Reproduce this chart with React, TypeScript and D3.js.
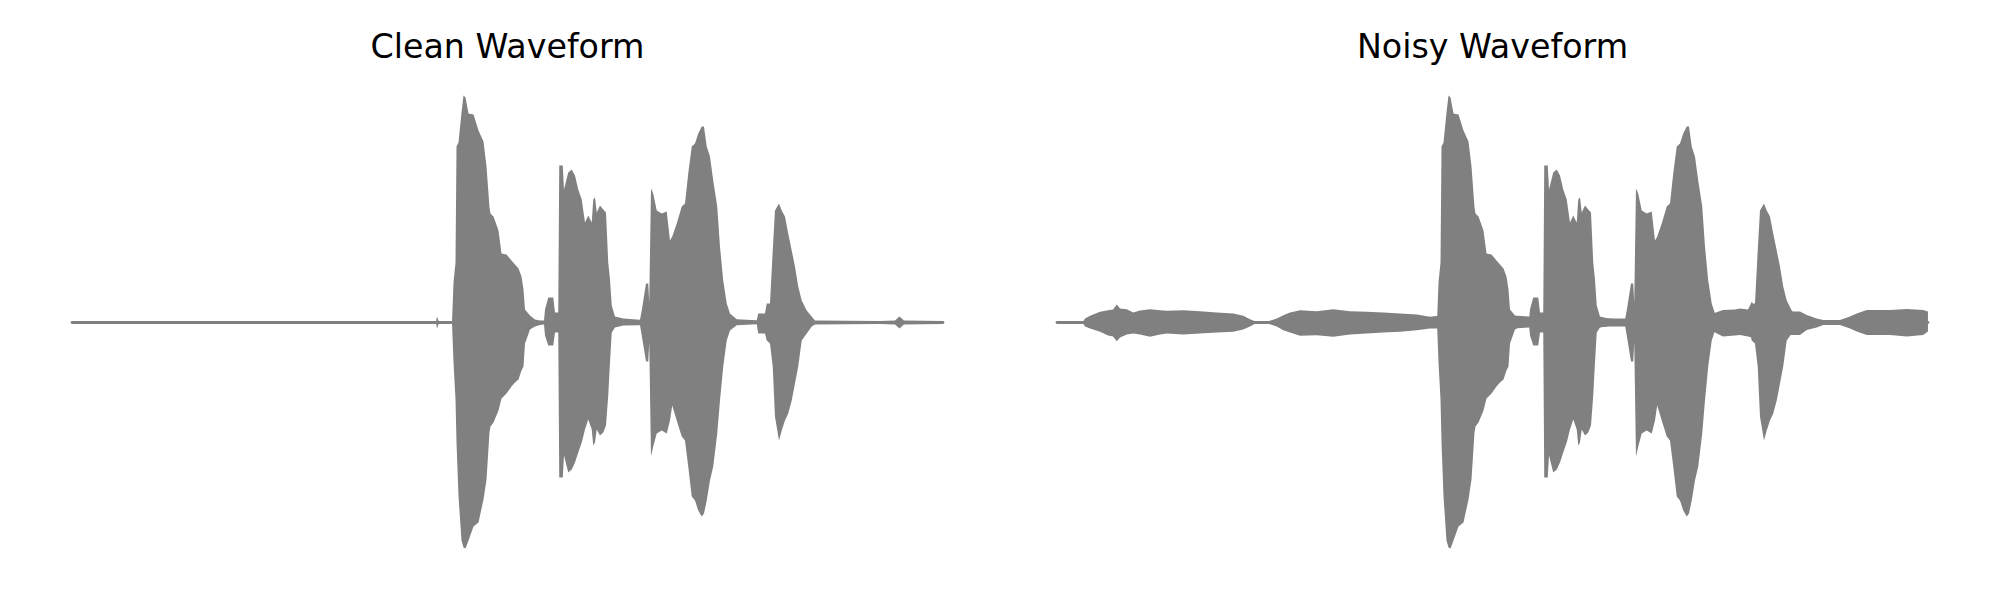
import { useEffect, useRef } from 'react';
import * as d3 from 'd3';

// time in ms, amplitude in arbitrary units (upper, lower)
const DURATION = 3484;

const panelTitles = ['Clean Waveform', 'Noisy Waveform'];

// speech envelope (shared by both waveforms)
const speechEnvelope: [number, number, number][] = [
  [0, 0.5, -0.5], [1456, 0.5, -0.5], [1460, 6, -6], [1468, 0.5, -0.5], [1520, 0.5, -0.5],
  [1526, 40, -40], [1534, 60, -77], [1538, 176, -120], [1546, 180, -174], [1558, 210, -218],
  [1566, 227, -225], [1574, 225, -226], [1586, 209, -218], [1606, 208, -204], [1626, 192, -200],
  [1646, 181, -177], [1658, 156, -157], [1670, 115, -110], [1674, 109, -104], [1686, 106, -100],
  [1706, 92, -88], [1718, 69, -76], [1738, 68, -71], [1758, 62, -64], [1772, 58, -60],
  [1786, 54, -57], [1798, 46, -48], [1806, 33, -44], [1812, 13, -21], [1832, 7, -7],
  [1852, 3, -4], [1872, 2, -2.5], [1888, 2, -2], [1892, 13, -13], [1905, 25, -23],
  [1925, 25, -23], [1932, 10, -10], [1945, 10, -10], [1949, 157, -155], [1963, 157, -155],
  [1968, 133, -133], [1985, 150, -150], [1999, 153, -147], [2012, 147, -140], [2025, 133, -130],
  [2039, 123, -120], [2052, 100, -107], [2065, 107, -97], [2079, 100, -107], [2085, 123, -123],
  [2092, 125, -120], [2099, 110, -107], [2112, 117, -113], [2125, 113, -110], [2136, 110, -103],
  [2145, 60, -73], [2152, 43, -40], [2159, 17, -10], [2172, 6, -5], [2205, 4, -3],
  [2272, 2.7, -2.7], [2279, 12, -13], [2296, 39, -39], [2305, 39, -39], [2309, 20, -20],
  [2316, 134, -134], [2325, 129, -124], [2339, 112, -111], [2359, 109, -108], [2379, 111, -111],
  [2392, 82, -98], [2401, 86, -83], [2419, 99, -98], [2439, 116, -114], [2452, 119, -118],
  [2465, 149, -144], [2479, 176, -174], [2492, 179, -178], [2505, 189, -188], [2519, 196, -194],
  [2528, 196, -191], [2539, 176, -178], [2552, 166, -158], [2565, 142, -144], [2581, 116, -111],
  [2592, 76, -78], [2605, 42, -44], [2619, 19, -18], [2632, 9, -8], [2659, 3.3, -2.7],
  [2739, 2.3, -1.7], [2745, 9, -11], [2772, 9, -11], [2779, 19, -18], [2792, 19, -21],
  [2803, 72, -44], [2812, 112, -94], [2828, 119, -118], [2839, 112, -108], [2852, 106, -98],
  [2865, 89, -91], [2879, 72, -78], [2892, 56, -61], [2905, 36, -44], [2919, 22, -18],
  [2939, 12, -11], [2959, 6, -4], [2972, 2, -2], [3232, 1.5, -1.5], [3292, 2, -2],
  [3310, 6, -6], [3328, 2, -2], [3484, 1.5, -1.5],
];

// background noise envelope (noisy waveform only)
const noiseEnvelope: [number, number, number][] = [
  [0, 0, 0], [104, 1, -1], [112, 4, -4], [132, 6.7, -6], [172, 10.7, -9.3], [204, 12.3, -13],
  [224, 13, -14], [239, 18, -18.7], [252, 14, -15], [279, 13.3, -12], [305, 10, -11],
  [332, 12, -12], [372, 13.3, -14.3], [412, 12.3, -12], [439, 11.7, -11], [505, 12.3, -12],
  [572, 11.3, -11], [639, 10, -10], [705, 9, -9.3], [745, 6.7, -7], [772, 3.3, -4],
  [792, 1.3, -1.3], [839, 0.7, -0.7], [879, 4, -4], [905, 7.3, -7.7], [932, 10, -10],
  [972, 12.3, -13.3], [1039, 11.3, -12.7], [1105, 13.3, -14.3], [1172, 11.3, -12],
  [1239, 10.7, -11], [1305, 10, -10], [1372, 9, -9.3], [1439, 8, -7.7], [1492, 5.7, -6],
  [1525, 6.7, -6], [1792, 8, -8], [1824, 7, -6], [1892, 6, -5], [2160, 5, -5], [2212, 4, -4],
  [2272, 4, -4], [2512, 10, -10], [2624, 9, -9], [2664, 12.5, -14], [2712, 13, -13],
  [2732, 14, -12.5], [2764, 13, -14], [2780, 21, -15], [2792, 12, -12], [2872, 11, -12],
  [2920, 11, -12.5], [2972, 11, -12.5], [2999, 7.5, -7.5], [3039, 4, -5], [3065, 2.5, -2.5],
  [3132, 2.5, -2.5], [3172, 6, -6], [3199, 9, -9], [3239, 12.5, -12.5], [3332, 12.5, -12.5],
  [3399, 13.5, -14], [3465, 12.5, -12.5], [3484, 11, -9],
];

const WIDTH = 2000;
const HEIGHT = 600;
const color = '#808080';

export default function App() {
  const svgRef = useRef<SVGSVGElement>(null);

  useEffect(() => {
    if (!svgRef.current) return;
    const svg = d3.select(svgRef.current);
    svg.selectAll('*').remove();

    const axTop = 72.5;
    const axBottom = 572.5;
    const panelW = 958;
    const panelLefts = [28.5, 1013.5];

    const yScale = d3.scaleLinear().domain([-250, 250]).range([axBottom, axTop]);

    panelTitles.forEach((title, i) => {
      const left = panelLefts[i];
      const pad = DURATION * 0.05;
      const xScale = d3
        .scaleLinear()
        .domain([-pad, DURATION + pad])
        .range([left, left + panelW]);

      const g = svg.append('g');

      const area = d3
        .area<[number, number, number]>()
        .x((d) => xScale(d[0]))
        .y0((d) => yScale(d[2]))
        .y1((d) => yScale(d[1]));

      // thin baseline so silence still shows as a line
      g.append('path')
        .attr(
          'd',
          d3.line<number>()
            .x((d) => xScale(d))
            .y(() => yScale(0))([0, DURATION]) as string
        )
        .attr('stroke', color)
        .attr('stroke-width', 2.8)
        .attr('stroke-linecap', 'round')
        .attr('fill', 'none');

      if (i === 1) {
        g.append('path').attr('d', area(noiseEnvelope) as string).attr('fill', color);
      }
      g.append('path').attr('d', area(speechEnvelope) as string).attr('fill', color);

      svg
        .append('text')
        .attr('x', left + panelW / 2)
        .attr('y', axTop - 14.5)
        .attr('text-anchor', 'middle')
        .attr('font-family', 'DejaVu Sans')
        .attr('font-size', 33.3)
        .attr('fill', '#000')
        .text(title);
    });
  }, []);

  return (
    <svg
      ref={svgRef}
      width={WIDTH}
      height={HEIGHT}
      style={{ position: 'absolute', left: 0, top: 0, background: '#fff' }}
    />
  );
}
